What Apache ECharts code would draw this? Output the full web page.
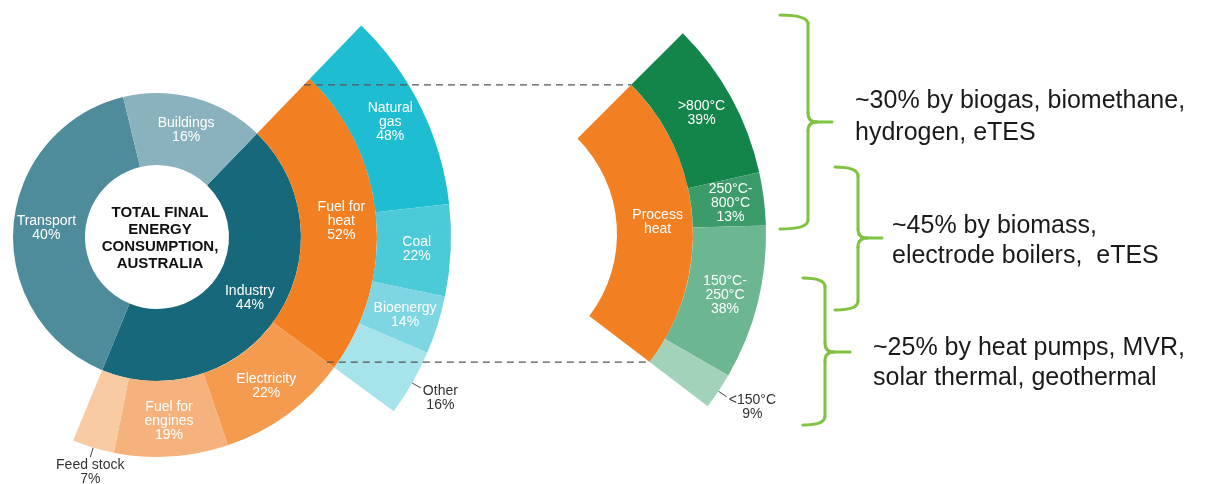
<!DOCTYPE html>
<html><head><meta charset="utf-8">
<script src="https://cdn.jsdelivr.net/npm/echarts@6/dist/echarts.min.js"></script>
<style>html,body{margin:0;padding:0;background:#fff}#c{width:1211px;height:484px}</style>
</head><body><div id="c"></div>
<script>
// ---------------- DATA ----------------
const centerTitle = 'TOTAL FINAL\nENERGY\nCONSUMPTION,\nAUSTRALIA';
const sectorNames = ['Industry', 'Transport', 'Buildings'];
const sectorShares = [44, 40, 16];
const industryNames = ['Fuel for\nheat', 'Electricity', 'Fuel for\nengines', 'Feed stock'];
const industryShares = [52, 22, 19, 7];
const heatFuelNames = ['Natural\ngas', 'Coal', 'Bioenergy', 'Other'];
const heatFuelShares = [48, 22, 14, 16];
const processHeatName = 'Process\nheat';
const tempNames = ['>800°C', '250°C-\n800°C', '150°C-\n250°C', '<150°C'];
const tempShares = [39, 13, 38, 9];
const noteTexts = [
  '~30% by biogas, biomethane,\nhydrogen, eTES',
  '~45% by biomass,\nelectrode boilers,  eTES',
  '~25% by heat pumps, MVR,\nsolar thermal, geothermal'
];

// ---------------- STYLES / LAYOUT ----------------
const FONT = "'Liberation Sans', Arial, sans-serif";
const sectorColors = ['#17687a', '#4f8c9b', '#8ab2be'];
const industryColors = ['#f28022', '#f49b50', '#f6b27c', '#f9cba3'];
const heatFuelColors = ['#1ebdd2', '#4ccad8', '#7dd6e2', '#a7e3eb'];
const processHeatColor = '#f28022';
const tempColors = ['#13854a', '#3b9b69', '#6cb792', '#a2d2ba'];
const bracketColor = '#80c342';

const L = { cx: 157, cy: 237, r: [72, 144, 220, 294], start: 46 };
const R = { cx: 482, cy: 234, r: [135, 211, 284], start: 45 };

const industryFrac = sectorShares[0] / 100;
const heatFrac = industryFrac * industryShares[0] / 100;

function filler(v) {
  return { value: v, name: '', itemStyle: { color: 'rgba(0,0,0,0)' },
           label: { show: false }, labelLine: { show: false } };
}
function ringData(names, shares, colors, frac, norm, outsideIdx) {
  const d = names.map((n, i) => {
    const item = { name: n, value: shares[i] * frac * 100 / norm, pct: shares[i],
                   itemStyle: { color: colors[i] } };
    if (i === outsideIdx) {
      item.label = { position: 'outside', color: '#333' };
      item.labelLine = { show: true, length: 8, length2: 0, lineStyle: { color: '#444', width: 1 } };
    }
    return item;
  });
  const used = d.reduce((s, x) => s + x.value, 0);
  if (frac < 1) d.push(filler(100 - used));
  return d;
}
function makeLayout(outIdx) {
  return function (p) {
    if (p.dataIndex !== outIdx || !p.labelLinePoints) return {};
    const a = p.labelLinePoints[0], b = p.labelLinePoints[1];
    const dx = b[0] - a[0], dy = b[1] - a[1], len = Math.hypot(dx, dy) || 1;
    const ux = dx / len, uy = dy / len;
    const e = [a[0] + ux * 10, a[1] + uy * 10];
    if (Math.abs(ux) > 0.5) {
      return { x: e[0] + 2 + p.labelRect.width / 2, y: e[1] - 4, align: 'center',
               verticalAlign: 'top', labelLinePoints: [a, e, e] };
    }
    return { x: e[0], y: e[1] + 1, align: 'center', verticalAlign: 'top',
             labelLinePoints: [a, e, e] };
  };
}
function pie(c, radius, start, data, outIdx) {
  return {
    type: 'pie', center: [c.cx, c.cy], radius: radius, startAngle: start, clockwise: true,
    avoidLabelOverlap: false, animation: false, silent: true,
    itemStyle: { borderWidth: 0 },
    label: {
      position: 'inside', color: '#fff', fontSize: 14, lineHeight: 14, fontFamily: FONT,
      formatter: p => p.data.pct != null ? p.name + '\n' + p.data.pct + '%' : p.name
    },
    labelLine: { show: false },
    labelLayout: makeLayout(outIdx),
    emphasis: { disabled: true },
    data: data
  };
}

const series = [
  pie(L, [L.r[0], L.r[1]], L.start, ringData(sectorNames, sectorShares, sectorColors, 1, 100, -1), -1),
  pie(L, [L.r[1], L.r[2]], L.start, ringData(industryNames, industryShares, industryColors, industryFrac, 100, 3), 3),
  pie(L, [L.r[2], L.r[3]], L.start, ringData(heatFuelNames, heatFuelShares, heatFuelColors, heatFrac, 100, 3), 3),
  pie(R, [R.r[0], R.r[1]], R.start, [
    { name: processHeatName, value: heatFrac * 100, itemStyle: { color: processHeatColor } },
    filler(100 - heatFrac * 100)
  ], -1),
  pie(R, [R.r[1], R.r[2]], R.start,
      ringData(tempNames, tempShares, tempColors, heatFrac, tempShares.reduce((a, b) => a + b, 0), 3), 3)
];

// ---------------- ANNOTATIONS ----------------
const rad = Math.PI / 180;
const heatSpan = heatFrac * 360;
const topY = R.cy - R.r[1] * Math.sin(R.start * rad);
const topX2 = R.cx + R.r[1] * Math.cos(R.start * rad);
const topX1 = L.cx + (L.cy - topY) / Math.tan(L.start * rad);
const endR = (R.start - heatSpan) * rad;
const botY = R.cy - R.r[1] * Math.sin(endR);
const botX2 = R.cx + R.r[1] * Math.cos(endR);
const endL = (L.start - heatSpan) * rad;
const botX1 = L.cx + (L.cy - botY) / Math.tan(endL);

const graphics = [];
const dash = { stroke: '#555', lineWidth: 1.2, lineDash: [7, 5] };
graphics.push({ type: 'line', z: 100, shape: { x1: topX1, y1: topY, x2: topX2, y2: topY }, style: dash });
graphics.push({ type: 'line', z: 100, shape: { x1: botX1, y1: botY, x2: botX2, y2: botY }, style: dash });

graphics.push({ type: 'text', z: 100, x: L.cx + 3, y: L.cy + 1,
  style: { text: centerTitle, fontFamily: FONT, fontWeight: 'bold', fontSize: 15, lineHeight: 17,
           align: 'center', verticalAlign: 'middle', fill: '#111' } });

function bracket(xs, xv, yt, yb, ym, xt) {
  const c = 9, st = { stroke: bracketColor, lineWidth: 3, fill: null, lineCap: 'round' };
  const g = [];
  g.push({ type: 'bezierCurve', shape: { x1: xs, y1: yt, cpx1: xv, cpy1: yt, x2: xv, y2: yt + c } });
  g.push({ type: 'line', shape: { x1: xv, y1: yt + c, x2: xv, y2: ym - c } });
  g.push({ type: 'bezierCurve', shape: { x1: xv, y1: ym - c, cpx1: xv, cpy1: ym, x2: xv + c, y2: ym } });
  g.push({ type: 'line', shape: { x1: xv + c, y1: ym, x2: xt, y2: ym } });
  g.push({ type: 'bezierCurve', shape: { x1: xv + c, y1: ym, cpx1: xv, cpy1: ym, x2: xv, y2: ym + c } });
  g.push({ type: 'line', shape: { x1: xv, y1: ym + c, x2: xv, y2: yb - c } });
  g.push({ type: 'bezierCurve', shape: { x1: xv, y1: yb - c, cpx1: xv, cpy1: yb, x2: xs, y2: yb } });
  g.forEach(e => { e.style = st; e.z = 100; graphics.push(e); });
}
bracket(780, 808, 15, 229, 122, 832);
bracket(835, 858, 167, 310, 238, 882);
bracket(803, 825, 278, 425, 352, 850);

const notePos = [[855, 117, 32], [892, 241, 30], [873, 363, 30]];
noteTexts.forEach((t, i) => {
  graphics.push({ type: 'text', z: 100, x: notePos[i][0], y: notePos[i][1],
    style: { text: t, fontFamily: FONT, fontSize: 25, lineHeight: notePos[i][2],
             align: 'left', verticalAlign: 'middle', fill: '#1a1a1a' } });
});

const chart = echarts.init(document.getElementById('c'), null, { renderer: 'canvas' });
chart.setOption({ backgroundColor: '#fff', animation: false, series: series, graphic: { elements: graphics } });
</script></body></html>
